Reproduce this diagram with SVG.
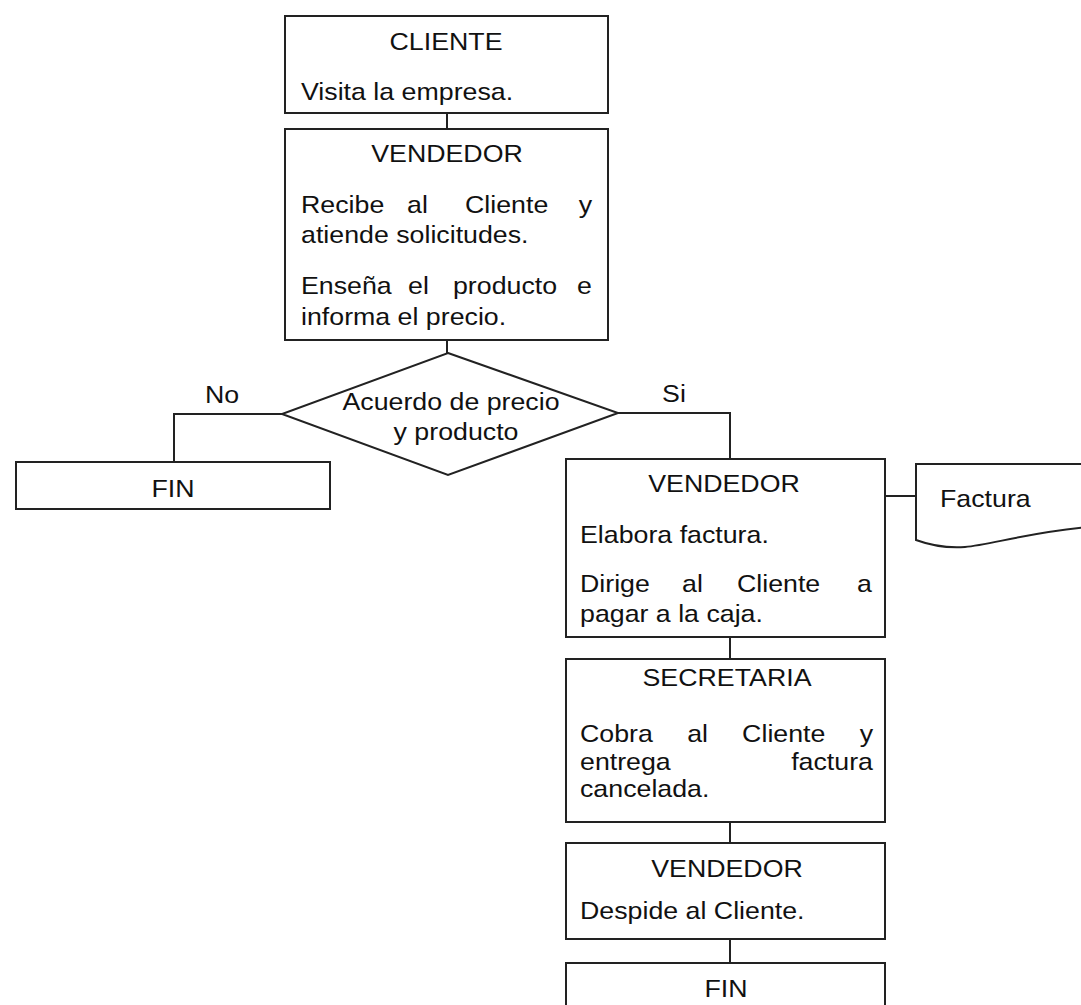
<svg xmlns="http://www.w3.org/2000/svg" width="1081" height="1005" viewBox="0 0 1081 1005">
<style>
  .box { fill: #ffffff; stroke: #222222; stroke-width: 2; }
  .conn { fill: none; stroke: #222222; stroke-width: 2; }
  text { font-family: "Liberation Sans", Arial, sans-serif; font-size: 24px; fill: #111111; }
  .c { text-anchor: middle; }
</style>
<rect x="0" y="0" width="1081" height="1005" fill="#ffffff"/>

<g id="connectors">
  <path class="conn" d="M447,113 V129"/>
  <path class="conn" d="M447,340 V353"/>
  <path class="conn" d="M282,414 H174 V462"/>
  <path class="conn" d="M618,413 H730 V459"/>
  <path class="conn" d="M730,637 V659"/>
  <path class="conn" d="M730,822 V843"/>
  <path class="conn" d="M730,939 V963"/>
  <path class="conn" d="M885,496 H916"/>
  <text class="c" transform="translate(222,403) scale(1.115,1)">No</text>
  <text class="c" transform="translate(674,402) scale(1.115,1)">Si</text>
</g>

<g id="cliente">
  <rect class="box" x="285" y="16" width="323" height="97"/>
  <text class="c" transform="translate(446,50) scale(1.115,1)">CLIENTE</text>
  <text transform="translate(301,100) scale(1.115,1)">Visita la empresa.</text>
</g>

<g id="vendedor1">
  <rect class="box" x="285" y="129" width="323" height="211"/>
  <text class="c" transform="translate(447,162) scale(1.115,1)">VENDEDOR</text>
  <text transform="translate(301,213) scale(1.115,1)"><tspan x="0">Recibe</tspan><tspan x="95.1">al</tspan><tspan x="147.1">Cliente</tspan><tspan x="249">y</tspan></text>
  <text transform="translate(301,243) scale(1.115,1)">atiende solicitudes.</text>
  <text transform="translate(301,294) scale(1.115,1)"><tspan x="0">Enseña</tspan><tspan x="96">el</tspan><tspan x="136.3">producto</tspan><tspan x="247.5">e</tspan></text>
  <text transform="translate(301,325) scale(1.115,1)">informa el precio.</text>
</g>

<g id="decision">
  <polygon class="box" points="448,353 618,413 448,475 282,414"/>
  <text class="c" transform="translate(451,410) scale(1.115,1)">Acuerdo de precio</text>
  <text class="c" transform="translate(456,440) scale(1.115,1)">y producto</text>
</g>

<g id="fin1">
  <rect class="box" x="16" y="462" width="314" height="47"/>
  <text class="c" transform="translate(173,497) scale(1.115,1)">FIN</text>
</g>

<g id="vendedor2">
  <rect class="box" x="566" y="459" width="319" height="178"/>
  <text class="c" transform="translate(724,492) scale(1.115,1)">VENDEDOR</text>
  <text transform="translate(580,543) scale(1.115,1)">Elabora factura.</text>
  <text transform="translate(580,592) scale(1.115,1)"><tspan x="0">Dirige</tspan><tspan x="91.5">al</tspan><tspan x="140.8">Cliente</tspan><tspan x="248.4">a</tspan></text>
  <text transform="translate(580,622) scale(1.115,1)">pagar a la caja.</text>
</g>

<g id="factura">
  <path class="box" d="M1090,464 H916 V540 C935,547 950,548 965,547 C990,545 1030,532 1090,527"/>
  <text transform="translate(940,507) scale(1.115,1)">Factura</text>
</g>

<g id="secretaria">
  <rect class="box" x="566" y="659" width="319" height="163"/>
  <text class="c" transform="translate(727,686) scale(1.115,1)">SECRETARIA</text>
  <text transform="translate(580,742) scale(1.115,1)"><tspan x="0">Cobra</tspan><tspan x="96.1">al</tspan><tspan x="145.4">Cliente</tspan><tspan x="250.8">y</tspan></text>
  <text transform="translate(580,770) scale(1.115,1)"><tspan x="0">entrega</tspan><tspan x="189.4">factura</tspan></text>
  <text transform="translate(580,797) scale(1.115,1)">cancelada.</text>
</g>

<g id="vendedor3">
  <rect class="box" x="566" y="843" width="319" height="96"/>
  <text class="c" transform="translate(727,877) scale(1.115,1)">VENDEDOR</text>
  <text transform="translate(580,919) scale(1.115,1)">Despide al Cliente.</text>
</g>

<g id="fin2">
  <rect class="box" x="566" y="963" width="319" height="60"/>
  <text class="c" transform="translate(726,997) scale(1.115,1)">FIN</text>
</g>
</svg>
